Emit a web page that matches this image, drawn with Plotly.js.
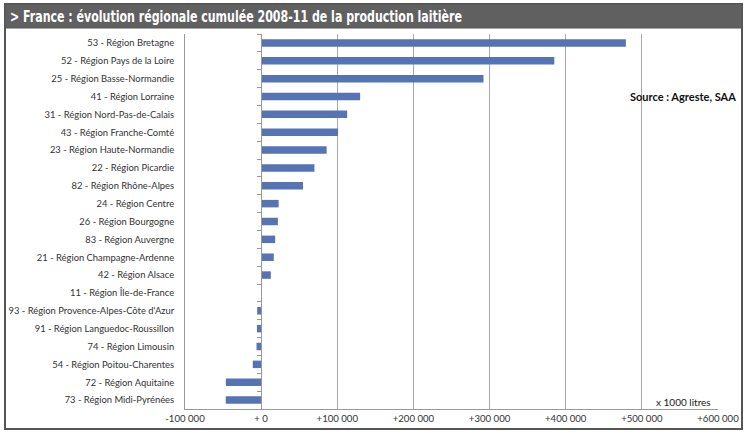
<!DOCTYPE html>
<html>
<head>
<meta charset="utf-8">
<script src="https://cdn.plot.ly/plotly-3.0.1.min.js"></script>
<style>html,body{margin:0;padding:0;background:#fff;}#chart{width:747px;height:438px;}</style>
</head>
<body>
<div id="chart"></div>
<script>
const regions = [
  "53 - Région Bretagne",
  "52 - Région Pays de la Loire",
  "25 - Région Basse-Normandie",
  "41 - Région Lorraine",
  "31 - Région Nord-Pas-de-Calais",
  "43 - Région Franche-Comté",
  "23 - Région Haute-Normandie",
  "22 - Région Picardie",
  "82 - Région Rhône-Alpes",
  "24 - Région Centre",
  "26 - Région Bourgogne",
  "83 - Région Auvergne",
  "21 - Région Champagne-Ardenne",
  "42 - Région Alsace",
  "11 - Région Île-de-France",
  "93 - Région Provence-Alpes-Côte d'Azur",
  "91 - Région Languedoc-Roussillon",
  "74 - Région Limousin",
  "54 - Région Poitou-Charentes",
  "72 - Région Aquitaine",
  "73 - Région Midi-Pyrénées"
];
const evolution = [479000, 385000, 292000, 130000, 113000, 101000, 86000, 70000, 55000, 23000, 22000, 18400, 16600, 12700, 500, -5200, -5500, -6100, -11000, -46400, -46500];
const tickValues = [-100000, 0, 100000, 200000, 300000, 400000, 500000, 600000];
const tickLabels = ["-100 000", "+ 0", "+100 000", "+200 000", "+300 000", "+400 000", "+500 000", "+600 000"];
const titleText = "> France : évolution régionale cumulée 2008-11 de la production laitière";
const sourceText = "Source : Agreste, SAA";
const unitText = "x 1000 litres";

// pixel helpers for decoration (plot area 185..718 x 34..409)
const L = 185, R = 718, T = 34, B = 409;
const px = p => (p - L) / (R - L);
const py = p => (B - p) / (B - T);

const labelFont = {family: "Lato, 'Liberation Sans', sans-serif", size: 9.4, color: "#333"};

const traces = [
  {
    type: "bar", orientation: "h",
    x: evolution, y: regions,
    marker: {color: "#5673B4"},
    width: 0.42,
    hoverinfo: "x+y",
    xaxis: "x", yaxis: "y"
  },
  {
    type: "bar", orientation: "h",
    x: evolution, y: regions,
    marker: {color: "rgba(0,0,0,0)"},
    width: 0.42,
    hoverinfo: "skip",
    xaxis: "x", yaxis: "y2"
  }
];

const layout = {
  width: 747, height: 438,
  margin: {l: L, r: 747 - R, t: T, b: 438 - B, pad: 0},
  paper_bgcolor: "#fff", plot_bgcolor: "#fff",
  showlegend: false,
  bargap: 0.5,
  barmode: "overlay",
  title: {
    text: titleText,
    xref: "container", yref: "container",
    x: 10 / 747, xanchor: "left",
    y: 1 - 16 / 438, yanchor: "middle",
    font: {family: "'DejaVu Sans Condensed', 'DejaVu Sans', sans-serif", size: 16, weight: "bold", color: "#fff"}
  },
  xaxis: {
    range: [-100000, 600000],
    tickvals: tickValues, ticktext: tickLabels,
    showgrid: true, gridcolor: "#a8a8a8", gridwidth: 1,
    zeroline: false,
    showline: true, linecolor: "#999", linewidth: 1,
    ticks: "", tickfont: {family: "Lato, 'Liberation Sans', sans-serif", size: 9.6, color: "#333"},
    fixedrange: true
  },
  yaxis: {
    type: "category",
    categoryorder: "array", categoryarray: regions,
    autorange: "reversed",
    showgrid: false, zeroline: false,
    showline: true, linecolor: "#999", linewidth: 1,
    ticks: "", ticklabelstandoff: 8,
    tickfont: labelFont,
    fixedrange: true
  },
  yaxis2: {
    type: "category",
    categoryorder: "array", categoryarray: regions,
    autorange: "reversed",
    overlaying: "y", anchor: "free",
    position: px(261),
    showgrid: false, zeroline: false,
    showline: true, linecolor: "#999", linewidth: 1,
    ticks: "outside", ticklen: 4, tickcolor: "#999",
    tickson: "boundaries",
    showticklabels: false,
    fixedrange: true
  },
  shapes: [
    {type: "rect", xref: "paper", yref: "paper",
     x0: px(5), x1: px(742), y0: py(429), y1: py(4),
     line: {color: "#555", width: 2}, fillcolor: "rgba(0,0,0,0)", layer: "below"},
    {type: "rect", xref: "paper", yref: "paper",
     x0: px(5), x1: px(742), y0: py(28), y1: py(4),
     line: {color: "#555", width: 1}, fillcolor: "#606060", layer: "below"}
  ],
  annotations: [
    {text: "<b>" + sourceText + "</b>", xref: "paper", yref: "paper",
     x: px(738), y: py(96), xanchor: "right", yanchor: "middle", showarrow: false,
     font: {family: "Lato, 'Liberation Sans', sans-serif", size: 11, color: "#111"}},
    {text: unitText, xref: "paper", yref: "paper",
     x: px(683), y: py(402), xanchor: "center", yanchor: "middle", showarrow: false,
     font: {family: "Lato, 'Liberation Sans', sans-serif", size: 10, color: "#222"}}
  ]
};

Plotly.newPlot("chart", traces, layout, {displayModeBar: false, staticPlot: true}).then(function () {
  const t = document.querySelector("#chart .gtitle");
  if (t) {
    t.setAttribute("textLength", "452");
    t.setAttribute("lengthAdjust", "spacingAndGlyphs");
  }
});
</script>
</body>
</html>
